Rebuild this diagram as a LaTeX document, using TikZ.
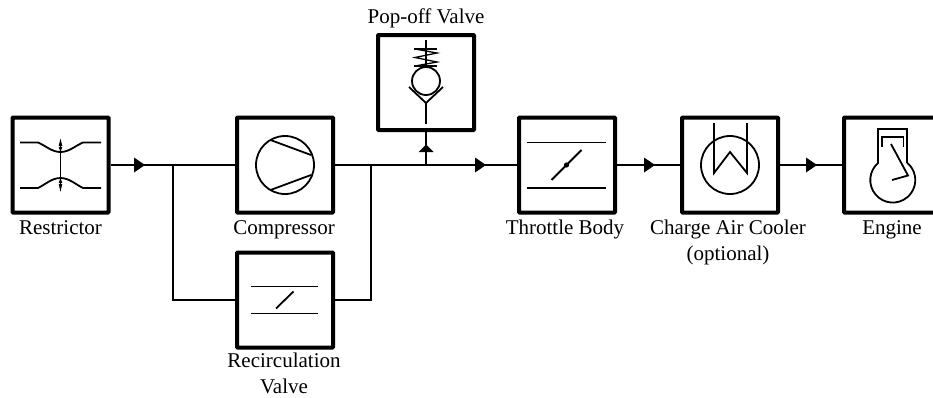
\documentclass[tikz,border=0pt]{standalone}
\usepackage{fontspec}
\setmainfont{Liberation Serif}
\usetikzlibrary{arrows.meta,decorations.markings}
\tikzset{
  x=1pt,y=-1pt,
  wire/.style={line width=1.9pt,line cap=butt},
  thinwire/.style={line width=1.7pt},
  sym/.style={line width=1.8pt},
  block/.style={draw,line width=4pt,rounded corners=0.6pt,minimum width=96pt,minimum height=95pt,inner sep=0pt,fill=white},
  lab/.style={font=\fontsize{21pt}{26pt}\selectfont,align=center,inner sep=0pt,anchor=base},
}
\newcommand{\tipR}[2]{\fill (#1-5,#2-7.5) -- (#1+6,#2) -- (#1-5,#2+7.5) -- cycle;}
\begin{document}
\begin{tikzpicture}
\useasboundingbox (0,0) rectangle (933,397);
\clip (0,0) rectangle (933,397);
% blocks
\node[block] (res) at (60.5,165) {};
\node[block] (comp) at (285,165) {};
\node[block] (rec) at (285,300) {};
\node[block] (pop) at (426,82.5) {};
\node[block] (thr) at (567,165) {};
\node[block] (cac) at (730,165) {};
\node[block] (eng) at (892,165) {};
% junctions
\coordinate (j1) at (173,165);
\coordinate (j2) at (371,165);
\coordinate (j3) at (426,165);
% connectors
\draw[wire] (res.east) -- (comp.west);
\draw[wire] (comp.east) -- (thr.west);
\draw[wire] (thr.east) -- (cac.west);
\draw[wire] (cac.east) -- (eng.west);
\draw[wire] (j3) -- (pop.south);
\draw[thinwire] (j1) |- (rec.west);
\draw[thinwire] (j2) |- (rec.east);
% arrow heads
\tipR{139}{165}
\tipR{480}{165}
\tipR{649}{165}
\tipR{811}{165}
\fill (418.5,152) -- (426,144.5) -- (433.5,152) -- cycle;
% restrictor
\draw[sym] (20,142.5) -- (38,142.5) .. controls (46,146) and (52,152) .. (60.5,152) .. controls (69,152) and (75,146) .. (83,142.5) -- (101,142.5);
\draw[sym] (20,188) -- (38,188) .. controls (46,184) and (52,178) .. (60.5,178) .. controls (69,178) and (75,184) .. (83,188) -- (101,188);
\draw[line width=1.2pt] (60.5,142) -- (60.5,191);
\fill (60.5,138.5) -- (62.3,146) -- (58.7,146) -- cycle;
\fill (60.5,152) -- (62.3,147) -- (58.7,147) -- cycle;
\fill (60.5,178) -- (62.3,183) -- (58.7,183) -- cycle;
\fill (60.5,191.5) -- (62.3,184) -- (58.7,184) -- cycle;
% compressor
\draw[sym] (285,165) circle (29);
\draw[sym] (270.5,140) -- (311,155);
\draw[sym] (270.5,190) -- (311,175);
% recirculation valve
\draw[sym] (251,286.5) -- (318,286.5);
\draw[sym] (251,313.5) -- (318,313.5);
\draw[sym] (276,308.5) -- (293.5,291.5);
% throttle
\draw[sym] (527,142.5) -- (606,142.5);
\draw[sym] (527,188) -- (606,188);
\draw[sym] (551.5,180) -- (581.5,150);
\fill (566.5,165) circle (2.6);
% pop-off
\draw[sym] (426,39.5) -- (426,66);
\draw[sym] (414,49) -- (437,49);
\draw[sym] (414,66) -- (437,66);
\draw[line width=1.3pt] (415,49) -- (437,53) -- (415,57.5) -- (437,62) -- (415,66);
\draw[sym] (426,81) circle (14);
\draw[sym] (409,87) -- (426,103) -- (443,87);
\draw[sym] (426,103) -- (426,123.5);
% charge air cooler
\draw[sym] (730,165) circle (29);
\draw[sym] (714,123) -- (714,173) -- (730,152) -- (747,173) -- (747,123);
% engine
\draw[sym] (878.3,162.8) -- (878.3,129) -- (907,129) -- (907,162.8);
\draw[sym] (882,147) -- (882,137) -- (903.5,137) -- (903.5,147);
\draw[sym] (878.3,162.8) arc[start angle=130,end angle=410,radius=22.5pt];
\draw[sym] (891,144) -- (908,175.5) -- (892,180);
% labels
\node[lab] (tres) at (60.5,234) {Restrictor};
\node[lab] (tcomp) at (284,234) {Compressor};
\node[lab] (trec) at (284,367) {Recirculation};
\node[lab] (trecb) at (284,393) {Valve};
\node[lab] (tpop) at (426,23) {Pop-off Valve};
\node[lab] (tthr) at (565,234) {Throttle Body};
\node[lab] (tcac) at (728,234) {Charge Air Cooler};
\node[lab] (tcacb) at (728,260) {(optional)};
\node[lab] (teng) at (892,234) {Engine};
\end{tikzpicture}
\end{document}
